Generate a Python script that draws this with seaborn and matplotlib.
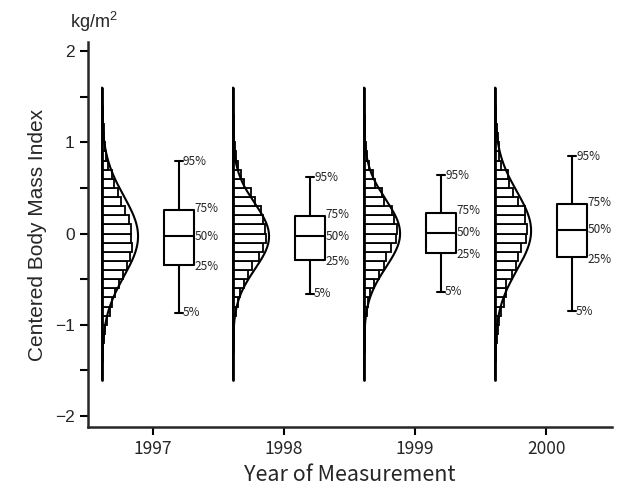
import numpy as np
import matplotlib
matplotlib.use("Agg")
import matplotlib.pyplot as plt
import seaborn as sns

# Summary values
years = ["1997", "1998", "1999", "2000"]
p5 = [-0.87, -0.66, -0.64, -0.85]
p25 = [-0.34, -0.29, -0.21, -0.26]
p50 = [-0.03, -0.03, 0.01, 0.04]
p75 = [0.26, 0.19, 0.23, 0.32]
p95 = [0.79, 0.62, 0.64, 0.85]
curve_mean = [-0.03, -0.03, 0.00, 0.03]
curve_sd = [0.44, 0.36, 0.37, 0.43]

# histogram: % of subjects per 0.1 bin, bins from -1.6 to 1.6
bin_edges = np.round(np.arange(-1.6, 1.61, 0.1), 2)
hist_1997 = [0.05, 0.1, 0.15, 0.25, 0.5, 0.8, 1.3, 1.9, 2.5, 3.2, 4.2, 5.3, 6.4, 7.1, 7.6, 7.4,
             7.4, 6.7, 5.7, 4.7, 4.0, 3.0, 2.4, 1.5, 1.1, 0.8, 0.6, 0.4, 0.3, 0.2, 0.1, 0.05]
hist_1998 = [0.05, 0.05, 0.1, 0.15, 0.2, 0.3, 0.4, 0.8, 1.4, 2.1, 3.4, 4.5, 5.9, 7.9, 9.2, 10.0,
             9.7, 9.2, 8.7, 6.9, 5.5, 3.4, 2.4, 1.4, 0.9, 0.6, 0.4, 0.3, 0.2, 0.1, 0.05, 0.05]
hist_1999 = [0.05, 0.05, 0.1, 0.15, 0.2, 0.3, 0.4, 0.8, 1.3, 1.8, 3.1, 4.4, 5.9, 6.7, 8.1, 9.5,
             9.8, 8.9, 8.4, 6.1, 5.4, 3.4, 2.6, 1.6, 1.0, 0.6, 0.4, 0.3, 0.2, 0.1, 0.05, 0.05]
hist_2000 = [0.05, 0.1, 0.15, 0.25, 0.4, 0.7, 1.1, 1.6, 2.3, 2.9, 2.9, 4.4, 5.3, 5.8, 6.7, 8.0,
             8.1, 7.7, 7.7, 5.8, 4.6, 3.5, 3.3, 1.4, 1.1, 0.9, 0.7, 0.5, 0.3, 0.2, 0.1, 0.05]
hists = [hist_1997, hist_1998, hist_1999, hist_2000]

sns.set_style("ticks")
plt.rcParams["font.family"] = ["Liberation Sans", "DejaVu Sans"]
plt.rcParams["mathtext.default"] = "regular"
narrow = ["Noto Sans CJK JP", "DejaVu Sans"]

fig = plt.figure(figsize=(6.18, 4.88), dpi=100)
ax = fig.add_axes([0.1424, 0.125, 0.848, 0.789])

peak_width = 0.275   # width of the fitted curve at its peak (axis units)
box_offset = 0.588
box_width = 0.229
tick_offset = 0.39
lw = 1.5

yy = np.linspace(-1.6, 1.6, 400)
stats = []
for i, yr in enumerate(years):
    base = i
    pdf_pct = 10.0 * np.exp(-0.5 * ((yy - curve_mean[i]) / curve_sd[i]) ** 2) / (curve_sd[i] * np.sqrt(2 * np.pi))
    scale = peak_width / (10.0 / (curve_sd[i] * np.sqrt(2 * np.pi)))
    # histogram bars
    ax.barh(bin_edges[:-1], np.array(hists[i]) * scale, height=0.1, left=base, align="edge",
            color="white", edgecolor="black", linewidth=1.3, zorder=2)
    # fitted normal curve
    sns.lineplot(x=base + pdf_pct * scale, y=yy, orient="y", sort=False, estimator=None,
                 color="black", linewidth=lw, ax=ax, zorder=3)
    ax.plot([base, base], [-1.6, 1.6], color="black", linewidth=2, zorder=4)
    stats.append(dict(med=p50[i], q1=p25[i], q3=p75[i], whislo=p5[i], whishi=p95[i], fliers=[]))

positions = [i + box_offset for i in range(len(years))]
ax.bxp(stats, positions=positions, widths=box_width, capwidths=0.06, showfliers=False,
       boxprops=dict(color="black", linewidth=lw),
       whiskerprops=dict(color="black", linewidth=lw),
       capprops=dict(color="black", linewidth=lw),
       medianprops=dict(color="black", linewidth=lw), manage_ticks=False)

for i, pos in enumerate(positions):
    kw = dict(fontsize=8.5, va="center", ha="left", family=narrow)
    ax.text(pos + 0.03, p95[i], "95%", **kw)
    ax.text(pos + box_width / 2 + 0.005, p75[i] + 0.02, "75%", **kw)
    ax.text(pos + box_width / 2 + 0.005, p50[i], "50%", **kw)
    ax.text(pos + box_width / 2 + 0.005, p25[i] - 0.02, "25%", **kw)
    ax.text(pos + 0.03, p5[i], "5%", **kw)

ax.set_xlim(-0.107, 3.893)
ax.set_ylim(-2.12, 2.10)
ax.set_yticks([-2, -1, 0, 1, 2])
ax.set_yticklabels(["\u22122", "\u22121", "0", "1", "2"], fontsize=12.5)
ax.set_yticks([-1.5, -0.5, 0.5, 1.5], minor=True)
ax.set_xticks([i + tick_offset for i in range(len(years))])
ax.set_xticklabels(years, fontsize=12.5, family=narrow)
ax.tick_params(axis="both", which="both", direction="out", length=6, width=1.5, color="black")
for s in ["left", "bottom"]:
    ax.spines[s].set_linewidth(1.8)
sns.despine(ax=ax)

ax.set_ylabel("Centered Body Mass Index", fontsize=15, labelpad=6)
ax.set_xlabel("Year of Measurement", fontsize=15.5, family=narrow, labelpad=4)
fig.text(0.113, 0.955, "kg/m$^2$", fontsize=13, ha="left", va="center")

fig.savefig("out.png", dpi=100)
